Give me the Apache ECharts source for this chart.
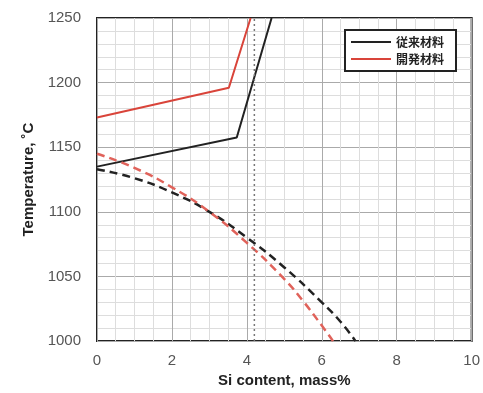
<!DOCTYPE html>
<html><head><meta charset="utf-8">
<script src="https://cdn.jsdelivr.net/npm/echarts@6/dist/echarts.min.js"></script>
<style>html,body{margin:0;padding:0;background:#fff}#c{width:483px;height:393px}</style>
</head><body><div id="c"></div>
<script>
const conventionalSolid = [[0,1135],[3.73,1157.5],[4.66,1250]];
const developedSolid = [[0,1173],[3.52,1196],[4.1,1250]];
const conventionalDashed = [[0,1133],[1,1126],[2,1115],[3,1100],[4,1080],[5,1057],[6,1030],[6.5,1015],[6.9,1000]];
const developedDashed = [[0,1145],[1,1134],[2,1119],[3,1100],[4,1076],[5,1048],[5.5,1031],[6,1012],[6.3,1000]];
const markerSi = [[4.2,1000],[4.2,1250]];
const legendNames = ['従来材料','開発材料'];
const xTitle = 'Si content, mass%';
const yTitle = 'Temperature, ˚C';

const chart = echarts.init(document.getElementById('c'), null, {renderer:'canvas'});
const font = 'Liberation Sans, Arial, sans-serif';
chart.setOption({
  animation:false,
  grid:{left:97,right:8,top:18,bottom:50,show:true,borderColor:'#222',borderWidth:2,backgroundColor:'transparent'},
  legend:{
    data:legendNames, orient:'vertical', left:345, top:30, itemWidth:40, itemHeight:2, itemGap:5,
    icon:'rect',
    borderColor:'#222', borderWidth:2, padding:[6,12,6,6], backgroundColor:'#fff',
    textStyle:{fontFamily:'Noto Sans CJK JP, sans-serif',fontSize:12,fontWeight:'bold',color:'#222',padding:[0,0,0,0]}
  },
  xAxis:{type:'value',min:0,max:10,interval:2,
    name:xTitle,nameLocation:'middle',nameGap:28,
    nameTextStyle:{fontFamily:font,fontSize:15,fontWeight:'bold',color:'#222'},
    axisLine:{show:false},axisTick:{show:false},
    axisLabel:{fontFamily:font,fontSize:15,color:'#555',margin:12},
    splitLine:{show:true,lineStyle:{color:'#aaa',width:1}},
    minorTick:{show:false,splitNumber:4},
    minorSplitLine:{show:true,lineStyle:{color:'#ddd',width:1}}
  },
  yAxis:{type:'value',min:1000,max:1250,interval:50,
    name:yTitle,nameLocation:'middle',nameGap:60,
    nameTextStyle:{fontFamily:font,fontSize:15,fontWeight:'bold',color:'#222'},
    axisLine:{show:false},axisTick:{show:false},
    axisLabel:{fontFamily:font,fontSize:15,color:'#555',margin:16,formatter:v=>String(v)},
    splitLine:{show:true,lineStyle:{color:'#aaa',width:1}},
    minorTick:{show:false,splitNumber:5},
    minorSplitLine:{show:true,lineStyle:{color:'#ddd',width:1}}
  },
  series:[
    {name:legendNames[0],type:'line',data:conventionalSolid,symbol:'none',lineStyle:{color:'#222',width:2},itemStyle:{color:'#222'}},
    {name:legendNames[1],type:'line',data:developedSolid,symbol:'none',lineStyle:{color:'#d9443a',width:2},itemStyle:{color:'#d9443a'}},
    {name:'cd',type:'line',data:conventionalDashed,symbol:'none',smooth:true,lineStyle:{color:'#222',width:2.5,type:[8,5]}},
    {name:'dd',type:'line',data:developedDashed,symbol:'none',smooth:true,lineStyle:{color:'#e0625a',width:2.5,type:[8,5]}},
    {name:'v',type:'line',data:markerSi,symbol:'none',lineStyle:{color:'#777',width:1.5,type:[2,3]}}
  ]
});
</script></body></html>
